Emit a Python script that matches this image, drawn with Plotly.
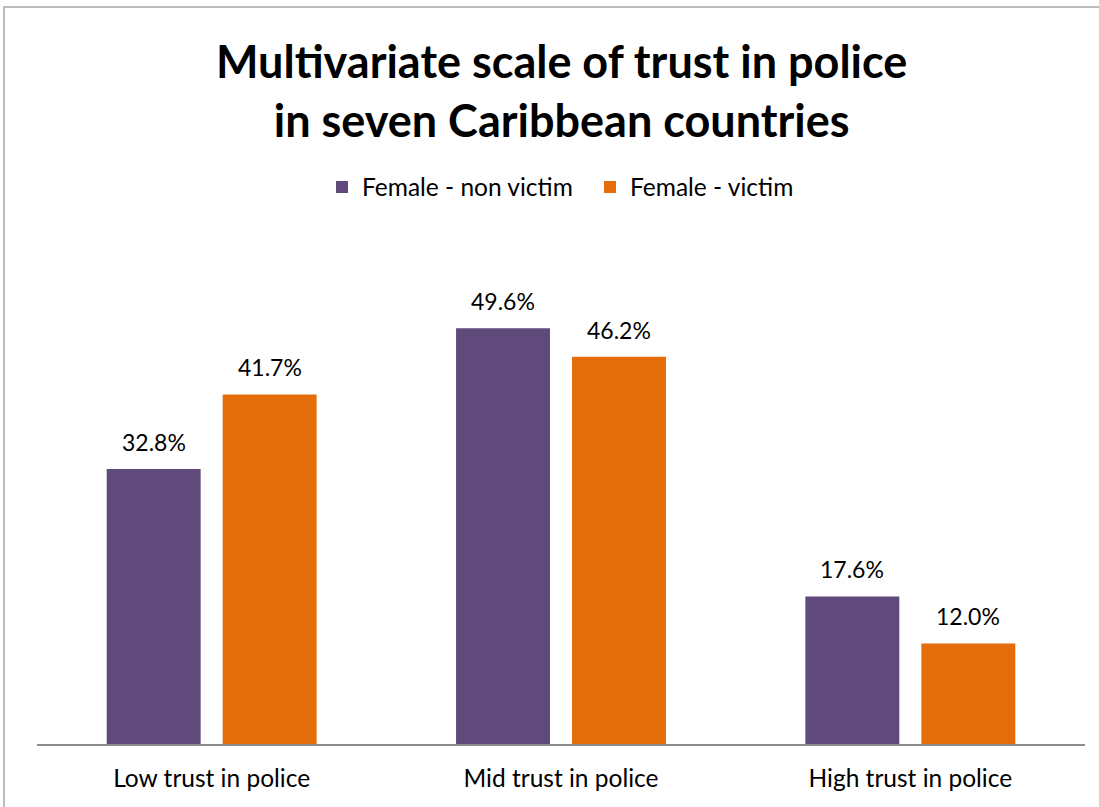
import plotly.graph_objects as go

categories = ["Low trust in police", "Mid trust in police", "High trust in police"]
series_names = ["Female - non victim", "Female - victim"]
non_victim = [32.8, 49.6, 17.6]
victim = [41.7, 46.2, 12.0]
colors = ["#604A7B", "#E46C0A"]
title_text = "<b>Multivariate scale of trust in police<br>in seven Caribbean countries</b>"

FONT = "Lato"
T, B, L, R = 241, 744, 37, 1085
PH = B - T
PW = R - L

fig = go.Figure()
for name, vals, col in zip(series_names, [non_victim, victim], colors):
    fig.add_trace(go.Bar(x=categories, y=vals, name=name, marker=dict(color=col, line=dict(width=0))))

annotations = [dict(x=0.5, y=1 + (T - 32) / PH, xref="paper", yref="paper", text=title_text,
                    showarrow=False, xanchor="center", yanchor="top",
                    font=dict(family=FONT, size=45, color="black"))]
for vals, shift in [(non_victim, -58), (victim, 58)]:
    for c, v in zip(categories, vals):
        annotations.append(dict(x=c, y=v, xref="x", yref="y", text=f"{v:.1f}%", showarrow=False,
                                xshift=shift, yshift=11, yanchor="bottom",
                                font=dict(family=FONT, size=23, color="black")))

fig.update_layout(
    width=1099, height=807,
    margin=dict(l=L, r=1099 - R, t=T, b=807 - B),
    paper_bgcolor="white", plot_bgcolor="white",
    barmode="group", bargap=0.336, bargroupgap=0.19,
    legend=dict(orientation="h", x=0.5 + 29 / PW, xanchor="center", y=1 + (T - 187) / PH, yanchor="middle",
                font=dict(family=FONT, size=24.5, color="black"),
                traceorder="normal", entrywidth=223),
    showlegend=True,
    annotations=annotations,
    xaxis=dict(showline=True, linecolor="#8C8C8C", linewidth=2, ticks="", showgrid=False,
               tickfont=dict(family=FONT, size=24.5, color="black"), ticklabelstandoff=12),
    yaxis=dict(range=[0, 60], visible=False, showgrid=False, zeroline=False),
    shapes=[dict(type="rect", xref="paper", yref="paper", x0=(4 - L) / PW, x1=1.2,
                 y0=-0.5, y1=1 + (T - 7) / PH, line=dict(color="#A6A6A6", width=1.5), layer="below")],
)

fig.write_html("out.html", post_script="document.body.style.margin='0';",
               config={"displayModeBar": False})
